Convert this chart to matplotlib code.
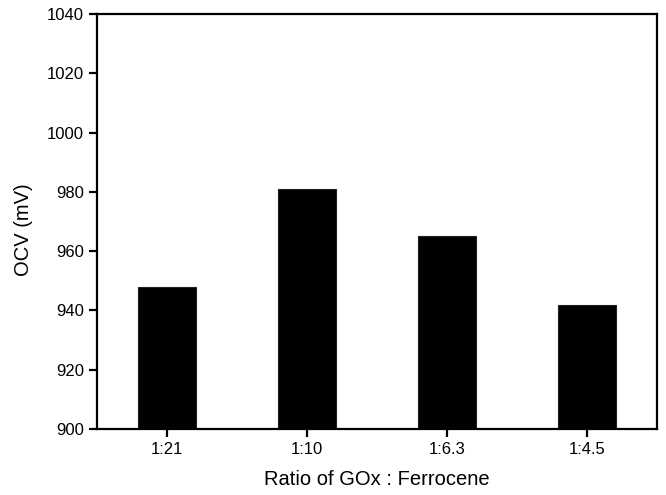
import matplotlib
matplotlib.use("Agg")
import matplotlib.pyplot as plt

ratios = ["1:21", "1:10", "1:6.3", "1:4.5"]
ocv = [948, 981, 965, 942]
y_ticks = [900, 920, 940, 960, 980, 1000, 1020, 1040]

plt.rcParams["font.family"] = ["Liberation Sans", "DejaVu Sans"]

fig = plt.figure(figsize=(6.66, 4.95), dpi=100)
ax = fig.add_axes([0.1456, 0.1333, 0.8409, 0.8384])

x = list(range(len(ratios)))
ax.bar(x, ocv, width=0.41, bottom=0, color="black", edgecolor="#222222", linewidth=0.8)

ax.set_xlim(-0.5, 3.5)
ax.set_ylim(900, 1040)
ax.set_xticks(x)
ax.set_xticklabels(ratios)
ax.set_yticks(y_ticks)

for s in ax.spines.values():
    s.set_linewidth(1.6)
ax.tick_params(axis="both", direction="out", length=6, width=1.6, labelsize=12,
               top=False, right=False)

ax.set_xlabel("Ratio of GOx : Ferrocene", fontsize=14.5, labelpad=9)
ax.set_ylabel("OCV (mV)", fontsize=14.5, labelpad=9)
ax.yaxis.set_label_coords(-0.115, 0.48)

fig.savefig("out.png", dpi=100)
